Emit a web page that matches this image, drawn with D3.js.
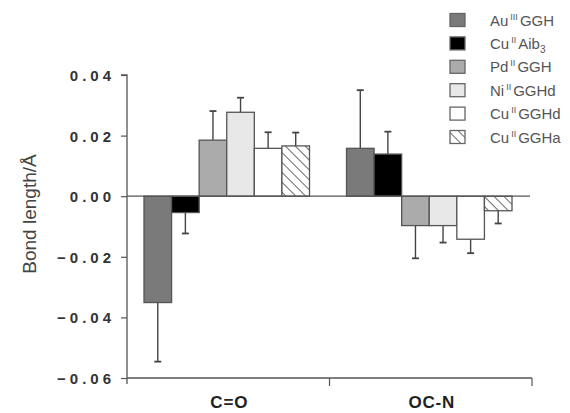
<!DOCTYPE html>
<html><head><meta charset="utf-8">
<script src="https://cdn.jsdelivr.net/npm/d3@7"></script>
<style>body{margin:0;background:#fff}</style>
</head><body>
<svg id="c" width="570" height="413"></svg>
<script>
const categories = ["C=O", "OC-N"];
const seriesNames = ["AuGGH", "CuAib3", "PdGGH", "NiGGHd", "CuGGHd", "CuGGHa"];
const values = {
  "C=O":  [-0.0351, -0.0054, 0.0185, 0.0277, 0.0158, 0.0166],
  "OC-N": [0.0158, 0.0139, -0.0097, -0.0097, -0.0142, -0.0048]
};
const errors = {
  "C=O":  [0.0195, 0.0069, 0.0096, 0.0048, 0.0053, 0.0044],
  "OC-N": [0.0192, 0.0074, 0.0108, 0.0056, 0.0046, 0.0042]
};
const yTicks = [-0.06, -0.04, -0.02, 0.00, 0.02, 0.04];
const fills = ["#7a7a7a", "#000000", "#ababab", "#e8e8e8", "#ffffff", "url(#hatch)"];
const legendLabels = [
  ["Au", "III", "GGH", ""], ["Cu", "II", "Aib", "3"], ["Pd", "II", "GGH", ""],
  ["Ni", "II", "GGHd", ""], ["Cu", "II", "GGHd", ""], ["Cu", "II", "GGHa", ""]
];

const svg = d3.select("#c");
const defs = svg.append("defs");
const pat = defs.append("pattern").attr("id", "hatch").attr("patternUnits", "userSpaceOnUse")
  .attr("width", 7).attr("height", 7).attr("patternTransform", "rotate(-45)");
pat.append("rect").attr("width", 7).attr("height", 7).attr("fill", "#fff");
pat.append("line").attr("x1", 0).attr("y1", 0).attr("x2", 0).attr("y2", 7)
  .attr("stroke", "#444").attr("stroke-width", 1.6);

const x0 = d3.scaleBand().domain(categories).range([127, 532]).paddingInner(0).paddingOuter(0);
const x1 = d3.scaleBand().domain(seriesNames).range([17, x0.bandwidth() - 20]).padding(0);
const y = d3.scaleLinear().domain([-0.06, 0.04]).range([378, 75]);

// y axis
const yAxis = d3.axisLeft(y).tickValues(yTicks).tickSize(6).tickFormat(d3.format(".2f"));
const gy = svg.append("g").attr("transform", "translate(127,0)").call(yAxis);
gy.select(".domain").attr("stroke", "#555").attr("stroke-width", 1.3).attr("d", "M-6,75H0V384");
gy.selectAll(".tick line").attr("stroke", "#555").attr("stroke-width", 1.2);
gy.selectAll(".tick text").attr("font-family", "Liberation Sans, Arial, sans-serif")
  .attr("font-weight", "bold").attr("font-size", 15).attr("fill", "#333")
  .attr("letter-spacing", 4).attr("x", -12).attr("dy", "0.36em");

// x axis
const gx = svg.append("g").attr("transform", "translate(0,378)");
gx.append("line").attr("x1", 127).attr("x2", 532).attr("y1", 0).attr("y2", 0)
  .attr("stroke", "#555").attr("stroke-width", 1.3);
const bounds = [x0.range()[0] + x0.bandwidth(), x0.range()[1]];
bounds.forEach(b => gx.append("line").attr("x1", b).attr("x2", b).attr("y1", 0).attr("y2", 8)
  .attr("stroke", "#555").attr("stroke-width", 1.2));
categories.forEach(c => gx.append("text").attr("x", x0(c) + x0.bandwidth() / 2 + 1).attr("y", 30)
  .attr("text-anchor", "middle").attr("font-family", "Liberation Sans, Arial, sans-serif")
  .attr("font-weight", "bold").attr("font-size", 17).attr("letter-spacing", 0.8).attr("fill", "#222").text(c));

// y label
svg.append("text").attr("transform", "translate(36,214) rotate(-90)").attr("text-anchor", "middle")
  .attr("font-family", "Liberation Sans, Arial, sans-serif").attr("font-size", 19).attr("fill", "#444")
  .text("Bond length/Å");

// bars
const flat = [];
categories.forEach(c => seriesNames.forEach((s, i) => flat.push({c, s, i, v: values[c][i], e: errors[c][i]})));
const g = svg.append("g");
flat.forEach(d => {
  const bx = x0(d.c) + x1(d.s), bw = x1.bandwidth();
  const top = y(Math.max(0, d.v)), bot = y(Math.min(0, d.v));
  const tip = d.v >= 0 ? y(d.v + d.e) : y(d.v - d.e);
  const end = d.v >= 0 ? top : bot;
  g.append("line").attr("x1", bx + bw / 2).attr("x2", bx + bw / 2).attr("y1", end).attr("y2", tip)
    .attr("stroke", "#444").attr("stroke-width", 1.4);
  g.append("line").attr("x1", bx + bw / 2 - 3.5).attr("x2", bx + bw / 2 + 3.5).attr("y1", tip).attr("y2", tip)
    .attr("stroke", "#444").attr("stroke-width", 1.8);
  g.append("rect").attr("x", bx).attr("y", top).attr("width", bw).attr("height", bot - top)
    .attr("fill", fills[d.i]).attr("stroke", "#555").attr("stroke-width", 1.3);
});

// zero line
svg.append("line").attr("x1", 127).attr("x2", 530).attr("y1", y(0)).attr("y2", y(0))
  .attr("stroke", "#555").attr("stroke-width", 1.3);

// legend
const lg = svg.append("g");
seriesNames.forEach((s, i) => {
  const ly = 20 + i * 23.4;
  lg.append("rect").attr("x", 450).attr("y", ly - 6.5).attr("width", 15).attr("height", 13)
    .attr("fill", fills[i]).attr("stroke", "#666").attr("stroke-width", 1.3);
  const [a, sup, b, sub] = legendLabels[i];
  const t = lg.append("text").attr("x", 490).attr("y", ly + 5.5)
    .attr("font-family", "Liberation Sans, Arial, sans-serif").attr("font-size", 15).attr("fill", "#555");
  t.append("tspan").text(a);
  t.append("tspan").attr("font-size", 9).attr("dx", 2).attr("dy", -6).text(sup);
  t.append("tspan").attr("dx", 2).attr("dy", 6).text(b);
  if (sub) t.append("tspan").attr("font-size", 10).attr("dy", 4).text(sub);
});
</script>
</body></html>
